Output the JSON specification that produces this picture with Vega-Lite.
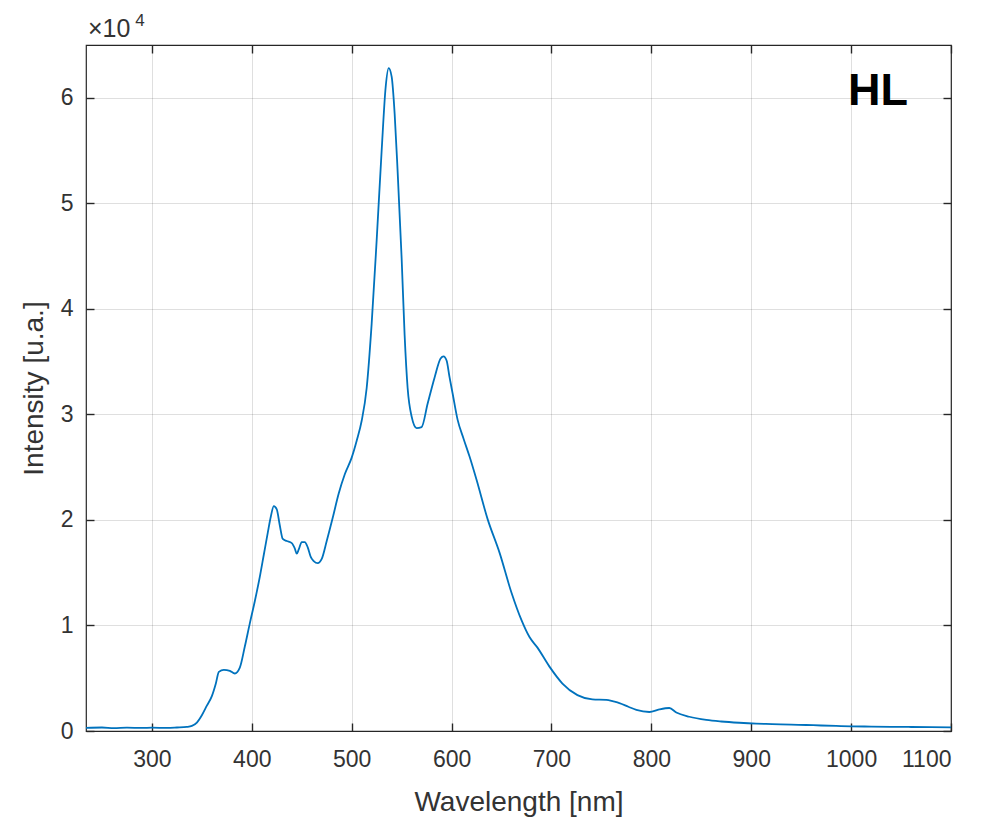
{
  "$schema": "https://vega.github.io/schema/vega-lite/v6.json",
  "width": 865,
  "height": 686,
  "autosize": {"type": "none"},
  "padding": {"left": 86, "top": 45, "right": 46, "bottom": 89},
  "background": "white",
  "config": {
    "font": "Liberation Sans",
    "view": {"stroke": "#262626", "strokeWidth": 1.2},
    "axis": {
      "domain": false,
      "grid": true,
      "gridColor": "#262626",
      "gridOpacity": 0.15,
      "gridWidth": 1,
      "tickColor": "#262626",
      "tickWidth": 1.4,
      "tickSize": -8,
      "labelFont": "Liberation Sans",
      "labelFontSize": 23,
      "labelColor": "#333333",
      "titleFont": "Liberation Sans",
      "titleFontSize": 28,
      "titleFontWeight": "normal",
      "titleColor": "#333333"
    }
  },
  "layer": [
    {
      "data": {
        "values": [
          {"wavelength": 234, "intensity": 300},
          {"wavelength": 250, "intensity": 330},
          {"wavelength": 262, "intensity": 280},
          {"wavelength": 275, "intensity": 320},
          {"wavelength": 290, "intensity": 290},
          {"wavelength": 300, "intensity": 320},
          {"wavelength": 315, "intensity": 290},
          {"wavelength": 325, "intensity": 330},
          {"wavelength": 335, "intensity": 390},
          {"wavelength": 340, "intensity": 480},
          {"wavelength": 345, "intensity": 800},
          {"wavelength": 350, "intensity": 1500},
          {"wavelength": 355, "intensity": 2400},
          {"wavelength": 360, "intensity": 3300},
          {"wavelength": 364, "intensity": 4500},
          {"wavelength": 367, "intensity": 5600},
          {"wavelength": 372, "intensity": 5800},
          {"wavelength": 378, "intensity": 5700},
          {"wavelength": 383, "intensity": 5450},
          {"wavelength": 388, "intensity": 6000},
          {"wavelength": 393, "intensity": 8000},
          {"wavelength": 398, "intensity": 10200},
          {"wavelength": 403, "intensity": 12300},
          {"wavelength": 408, "intensity": 14600},
          {"wavelength": 412, "intensity": 16700},
          {"wavelength": 416, "intensity": 18800},
          {"wavelength": 419, "intensity": 20300},
          {"wavelength": 422, "intensity": 21300},
          {"wavelength": 425, "intensity": 21000},
          {"wavelength": 428, "intensity": 19500},
          {"wavelength": 431, "intensity": 18200},
          {"wavelength": 435, "intensity": 18000},
          {"wavelength": 440, "intensity": 17800},
          {"wavelength": 443, "intensity": 17300},
          {"wavelength": 445, "intensity": 16800},
          {"wavelength": 447, "intensity": 17200},
          {"wavelength": 450, "intensity": 17900},
          {"wavelength": 453, "intensity": 17900},
          {"wavelength": 456, "intensity": 17400},
          {"wavelength": 459, "intensity": 16500},
          {"wavelength": 462, "intensity": 16100},
          {"wavelength": 466, "intensity": 15900},
          {"wavelength": 470, "intensity": 16300},
          {"wavelength": 475, "intensity": 18000},
          {"wavelength": 481, "intensity": 20200},
          {"wavelength": 487, "intensity": 22500},
          {"wavelength": 493, "intensity": 24300},
          {"wavelength": 500, "intensity": 25900},
          {"wavelength": 505, "intensity": 27500},
          {"wavelength": 510, "intensity": 29400},
          {"wavelength": 515, "intensity": 32500},
          {"wavelength": 520, "intensity": 38600},
          {"wavelength": 525, "intensity": 46500},
          {"wavelength": 530, "intensity": 55000},
          {"wavelength": 534, "intensity": 61000},
          {"wavelength": 537, "intensity": 62800},
          {"wavelength": 540, "intensity": 62000},
          {"wavelength": 543, "intensity": 58500},
          {"wavelength": 546, "intensity": 53000},
          {"wavelength": 550, "intensity": 44800},
          {"wavelength": 553, "intensity": 37500},
          {"wavelength": 556, "intensity": 32500},
          {"wavelength": 560, "intensity": 29800},
          {"wavelength": 565, "intensity": 28700},
          {"wavelength": 570, "intensity": 28800},
          {"wavelength": 576, "intensity": 31000},
          {"wavelength": 583, "intensity": 33500},
          {"wavelength": 589, "intensity": 35300},
          {"wavelength": 592, "intensity": 35500},
          {"wavelength": 595, "intensity": 35100},
          {"wavelength": 598, "intensity": 33500},
          {"wavelength": 601, "intensity": 32000},
          {"wavelength": 606, "intensity": 29500},
          {"wavelength": 612, "intensity": 27700},
          {"wavelength": 618, "intensity": 26000},
          {"wavelength": 625, "intensity": 23800},
          {"wavelength": 636, "intensity": 20100},
          {"wavelength": 648, "intensity": 16900},
          {"wavelength": 660, "intensity": 13100},
          {"wavelength": 670, "intensity": 10500},
          {"wavelength": 678, "intensity": 8900},
          {"wavelength": 686, "intensity": 7900},
          {"wavelength": 698, "intensity": 6100},
          {"wavelength": 711, "intensity": 4500},
          {"wavelength": 726, "intensity": 3400},
          {"wavelength": 741, "intensity": 3000},
          {"wavelength": 755, "intensity": 2950},
          {"wavelength": 762, "intensity": 2800},
          {"wavelength": 768, "intensity": 2650},
          {"wavelength": 777, "intensity": 2300},
          {"wavelength": 785, "intensity": 2000},
          {"wavelength": 798, "intensity": 1800},
          {"wavelength": 808, "intensity": 2050},
          {"wavelength": 818, "intensity": 2180},
          {"wavelength": 825, "intensity": 1750},
          {"wavelength": 838, "intensity": 1350},
          {"wavelength": 855, "intensity": 1050},
          {"wavelength": 870, "intensity": 900},
          {"wavelength": 888, "intensity": 780},
          {"wavelength": 905, "intensity": 700},
          {"wavelength": 921, "intensity": 660},
          {"wavelength": 940, "intensity": 600},
          {"wavelength": 955, "intensity": 570},
          {"wavelength": 970, "intensity": 520},
          {"wavelength": 985, "intensity": 480},
          {"wavelength": 1000, "intensity": 440},
          {"wavelength": 1020, "intensity": 420},
          {"wavelength": 1040, "intensity": 400},
          {"wavelength": 1060, "intensity": 380},
          {"wavelength": 1080, "intensity": 360},
          {"wavelength": 1100, "intensity": 340}
        ]
      },
      "mark": {"type": "line", "color": "#0072BD", "strokeWidth": 1.8, "interpolate": "monotone"},
      "encoding": {
        "x": {
          "field": "wavelength",
          "type": "quantitative",
          "scale": {"domain": [234, 1100], "nice": false, "zero": false},
          "axis": {
            "orient": "bottom",
            "title": "Wavelength [nm]",
            "values": [300, 400, 500, 600, 700, 800, 900, 1000, 1100],
            "format": "d",
            "labelPadding": 25,
            "titlePadding": 17
          }
        },
        "y": {
          "field": "intensity",
          "type": "quantitative",
          "scale": {"domain": [0, 65000], "nice": false},
          "axis": {
            "orient": "left",
            "title": "Intensity [u.a.]",
            "values": [0, 10000, 20000, 30000, 40000, 50000, 60000],
            "labelExpr": "format(datum.value / 10000, 'd')",
            "labelPadding": 21,
            "titlePadding": 12
          }
        }
      }
    },
    {
      "data": {"values": [{"label": "HL"}]},
      "mark": {"type": "text", "fontSize": 45, "fontWeight": "bold", "color": "black", "align": "center", "baseline": "alphabetic", "font": "Liberation Sans"},
      "encoding": {
        "text": {"field": "label"},
        "x": {
          "datum": 1027,
          "type": "quantitative",
          "scale": {"domain": [234, 1100], "nice": false, "zero": false},
          "axis": {"orient": "top", "title": null, "labels": false, "grid": false, "values": [300, 400, 500, 600, 700, 800, 900, 1000, 1100]}
        },
        "y": {
          "datum": 59300,
          "type": "quantitative",
          "scale": {"domain": [0, 65000], "nice": false},
          "axis": {"orient": "right", "title": null, "labels": false, "grid": false, "values": [0, 10000, 20000, 30000, 40000, 50000, 60000]}
        }
      }
    },
    {
      "data": {"values": [{"multiplier": "×10"}]},
      "mark": {"type": "text", "fontSize": 25, "color": "#333333", "align": "left", "baseline": "alphabetic", "font": "Liberation Sans", "clip": false},
      "encoding": {
        "text": {"field": "multiplier"},
        "x": {"datum": 236, "type": "quantitative", "scale": {"domain": [234, 1100], "nice": false, "zero": false}, "axis": null},
        "y": {"datum": 65760, "type": "quantitative", "scale": {"domain": [0, 65000], "nice": false}, "axis": null}
      }
    },
    {
      "data": {"values": [{"exponent": "4"}]},
      "mark": {"type": "text", "fontSize": 17, "color": "#333333", "align": "center", "baseline": "alphabetic", "font": "Liberation Sans", "clip": false},
      "encoding": {
        "text": {"field": "exponent"},
        "x": {"datum": 288, "type": "quantitative", "scale": {"domain": [234, 1100], "nice": false, "zero": false}, "axis": null},
        "y": {"datum": 66800, "type": "quantitative", "scale": {"domain": [0, 65000], "nice": false}, "axis": null}
      }
    }
  ],
  "resolve": {"axis": {"x": "independent", "y": "independent"}}
}
